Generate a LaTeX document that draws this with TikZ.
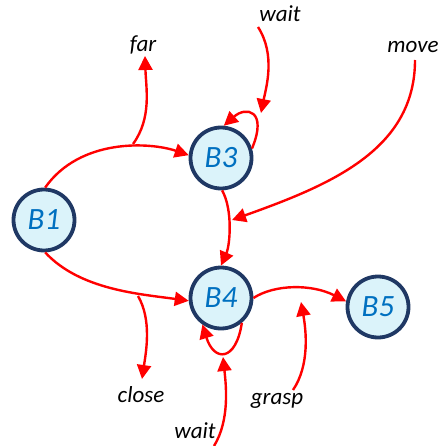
\documentclass[tikz,border=0pt]{standalone}
\usepackage{fontspec}
\setmainfont{Carlito}
\usetikzlibrary{arrows.meta}
\definecolor{nodeb}{HTML}{1F3864}
\definecolor{nodef}{HTML}{DBF3FA}
\definecolor{nodet}{HTML}{0070C0}
\begin{document}
\begin{tikzpicture}[x=1pt,y=-1pt,
  state/.style={circle,draw=nodeb,line width=3.8pt,fill=nodef,minimum size=61pt,inner sep=0pt,text=nodet,font=\fontsize{31}{36}\selectfont\itshape},
  lbl/.style={anchor=base,inner sep=0pt,font=\fontsize{23}{28}\selectfont\itshape},
  arr/.style={draw=red,line width=2.4pt,-{Triangle[length=14pt,width=14pt]}},
  lin/.style={draw=red,line width=2.4pt}]
\useasboundingbox (0,0) rectangle (442,446);
% nodes
\node[state] (B1) at (44,220) {B1};
\node[state] (B3) at (221,158) {B3};
\node[state] (B4) at (221,298) {B4};
\node[state] (B5) at (378,307) {B5};
% labels
\node[lbl] (lfar) at (143,52) {far};
\node[lbl] (lwaitt) at (280,22) {wait};
\node[lbl] (lmove) at (413,53) {move};
\node[lbl] (lclose) at (141,402) {close};
\node[lbl] (lwaitb) at (195,438) {wait};
\node[lbl] (lgrasp) at (277,404) {grasp};
% free ends
\coordinate (f0) at (133,144);
\coordinate (f1) at (145,56);
\coordinate (w0) at (258,27);
\coordinate (w1) at (261,113);
\coordinate (m0) at (415,60);
\coordinate (m1) at (232,220);
\coordinate (c0) at (138,296);
\coordinate (c1) at (142,379);
\coordinate (v0) at (214,446);
\coordinate (v1) at (223,357);
\coordinate (g0) at (293,390);
\coordinate (g1) at (301,302);
% edges
\draw[arr] (B1.88) .. controls (80,138) and (150,142) .. (B3.175);
\draw[arr] (f0) .. controls (152,118) and (146,88) .. (f1);
\draw[arr] (w0) .. controls (276,55) and (266,88) .. (w1);
\draw[arr] (B3.17) .. controls (268,110) and (246,106) .. (B3.85);
\draw[arr] (m0) .. controls (415,150) and (330,185) .. (m1);
\draw[arr] (B3.-88) .. controls (233,210) and (230,245) .. (B4.90);
\draw[arr] (B1.-88) .. controls (80,290) and (140,294) .. (B4.185);
\draw[arr] (c0) .. controls (152,320) and (146,352) .. (c1);
\draw[arr] (B4.-50) .. controls (236,362) and (214,362) .. (B4.-125);
\draw[arr] (v0) .. controls (230,420) and (226,385) .. (v1);
\draw[arr] (B4.0) .. controls (275,284) and (312,284) .. (B5.170);
\draw[arr] (g0) .. controls (310,365) and (306,330) .. (g1);
\end{tikzpicture}
\end{document}
